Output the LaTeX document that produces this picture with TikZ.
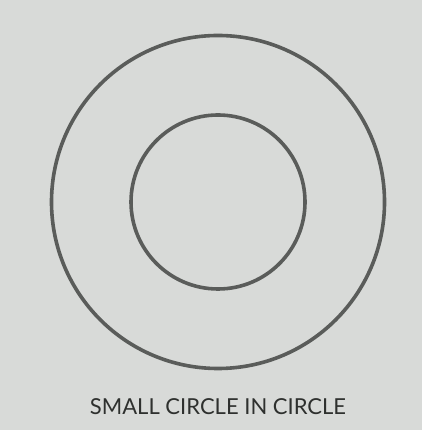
\documentclass[tikz,border=0pt]{standalone}
\usepackage{fontspec}
\setmainfont{Lato}
\definecolor{bg}{HTML}{D8DAD8}
\definecolor{ring}{HTML}{5A5C5A}
\definecolor{txt}{HTML}{2E302E}
\begin{document}
\begin{tikzpicture}[x=1pt,y=1pt,
  ringstyle/.style={draw=ring,line width=3.6pt,circle,inner sep=0pt,fill=none},
  labelstyle/.style={text=txt,font=\fontsize{22}{24}\selectfont,inner sep=0pt}]
\fill[bg] (0,0) rectangle (422,430);
\useasboundingbox (0,0) rectangle (422,430);
\node[ringstyle,minimum size=333pt] (outer) at (218,228) {};
\node[ringstyle,minimum size=174pt] (inner) at (218,228) {};
\node[labelstyle,anchor=base] (label) at (218,16) {SMALL CIRCLE IN CIRCLE};
\end{tikzpicture}
\end{document}
